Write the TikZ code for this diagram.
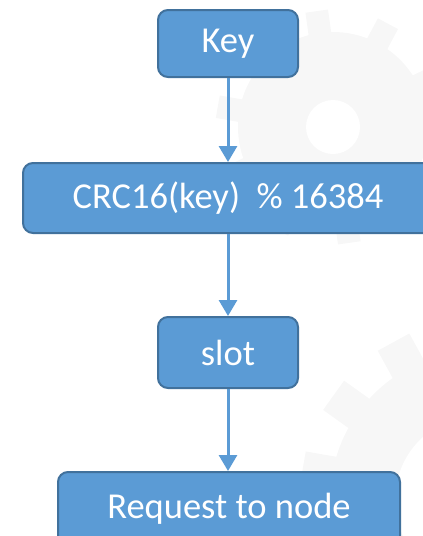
\documentclass[tikz,border=0pt]{standalone}
\usepackage{fontspec}
\setmainfont{Carlito}
\usetikzlibrary{arrows.meta,calc}
\definecolor{boxfill}{HTML}{5B9BD5}
\definecolor{boxline}{HTML}{41719C}
\definecolor{gearcol}{HTML}{F7F7F7}
% gear: centre, body radius, tooth length, teeth, hole radius, tooth offset angle
\newcommand\drawgear[6]{%
  \fill[gearcol] #1 circle (#2);
  \foreach \k in {1,...,#4}{
    \fill[gearcol,rotate around={\k*360/#4+#6:#1}]
      ($#1+(-#2*0.12,0)$) rectangle ($#1+(#2*0.12,-#2-#3)$);
  }
  \fill[white] #1 circle (#5);
}
\tikzset{
  flowbox/.style={draw=boxline, line width=2pt, fill=boxfill, rounded corners=10pt,
    text=white, font=\fontsize{36.5}{42}\selectfont, inner sep=0pt, anchor=north west},
  flowarrow/.style={draw=boxfill, line width=3pt,
    -{Triangle[width=18pt,length=16pt]}}
}
\begin{document}
\begin{tikzpicture}[x=1pt,y=-1pt]
  \useasboundingbox (0,0) rectangle (423,536);
  \clip (0,0) rectangle (423,536);
  % watermark gears
  \drawgear{(333,127)}{95}{22}{10}{27}{8}
  \drawgear{(480,500)}{150}{30}{14}{85}{3}
  % boxes
  \node[flowbox, minimum width=140pt, minimum height=67pt] (key) at (157,9) {Key};
  \node[flowbox, minimum width=410pt, minimum height=70pt] (crc) at (22,162) {CRC16(key)\ \ \% 16384};
  \node[flowbox, minimum width=140pt, minimum height=71pt] (slot) at (157,316) {slot};
  \node[flowbox, minimum width=342pt, minimum height=80pt] (req) at (57,471) {\raisebox{13pt}{Request\ to node}};
  % connectors
  \draw[flowarrow] (key.south) -- (crc.north -| key.south);
  \draw[flowarrow] (crc.south -| key.south) -- (slot.north);
  \draw[flowarrow] (slot.south) -- (req.north -| slot.south);
\end{tikzpicture}
\end{document}
